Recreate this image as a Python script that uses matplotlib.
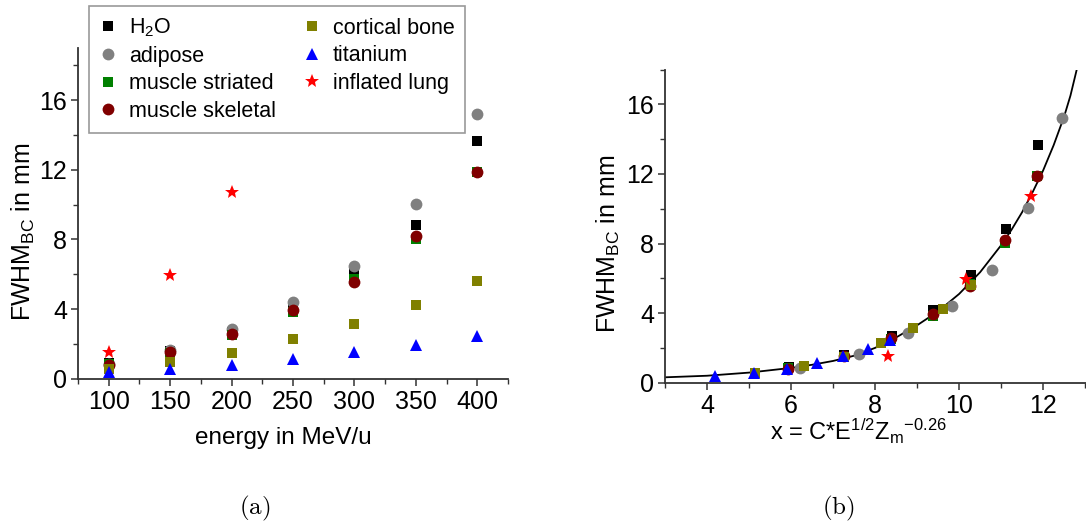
import numpy as np
import matplotlib
matplotlib.use('Agg')
import matplotlib.pyplot as plt
from matplotlib.ticker import MultipleLocator

plt.rcParams['font.family'] = ['Liberation Sans', 'DejaVu Sans']
plt.rcParams['mathtext.fontset'] = 'custom'
plt.rcParams['mathtext.rm'] = 'Liberation Sans'
plt.rcParams['mathtext.it'] = 'Liberation Sans:italic'
plt.rcParams['mathtext.bf'] = 'Liberation Sans:bold'

# beam energies (MeV/u)
energy = [100, 150, 200, 250, 300, 350, 400]
energy_lung = [100, 150, 200]

# FWHM_BC in mm per material
fwhm_h2o = [0.9, 1.6, 2.7, 4.2, 6.2, 8.85, 13.65]
fwhm_adipose = [0.85, 1.67, 2.86, 4.43, 6.5, 10.02, 15.23]
fwhm_striated = [0.85, 1.5, 2.5, 3.85, 5.7, 8.05, 11.9]
fwhm_skeletal = [0.77, 1.54, 2.56, 3.94, 5.58, 8.19, 11.9]
fwhm_bone = [0.55, 0.96, 1.48, 2.28, 3.16, 4.22, 5.63]
fwhm_titanium = [0.37, 0.54, 0.79, 1.13, 1.52, 1.96, 2.48]
fwhm_lung = [1.54, 5.95, 10.75]

# scaled variable x = C*E^1/2*Zm^-0.26
x_h2o = [5.94, 7.27, 8.40, 9.39, 10.29, 11.11, 11.88]
x_adipose = [6.22, 7.62, 8.79, 9.84, 10.78, 11.63, 12.44]
x_striated = [5.92, 7.26, 8.38, 9.37, 10.26, 11.09, 11.85]
x_skeletal = [5.93, 7.26, 8.38, 9.37, 10.26, 11.10, 11.85]
x_bone = [5.14, 6.30, 7.27, 8.13, 8.90, 9.62, 10.29]
x_titanium = [4.18, 5.12, 5.91, 6.61, 7.24, 7.82, 8.36]
x_lung = [8.30, 10.16, 11.72]

# fit curve
fit_x = [3.0, 4.0, 5.0, 6.0, 6.5, 7.0, 7.5, 8.0, 8.5, 9.0, 9.5, 10.0, 10.5,
         11.0, 11.25, 11.5, 11.75, 12.0, 12.25, 12.5, 12.65, 12.8]
fit_y = [0.31, 0.40, 0.58, 0.85, 1.03, 1.25, 1.55, 2.0, 2.6, 3.3, 4.1, 5.1,
         6.35, 7.9, 8.8, 9.8, 10.95, 12.2, 13.65, 15.3, 16.5, 18.0]

series = [
    ('H$_2$O', energy, x_h2o, fwhm_h2o, 's', 'black', 7.5),
    ('adipose', energy, x_adipose, fwhm_adipose, 'o', '#808080', 8.5),
    ('muscle striated', energy, x_striated, fwhm_striated, 's', '#008000', 7.5),
    ('muscle skeletal', energy, x_skeletal, fwhm_skeletal, 'o', '#800000', 8.5),
    ('cortical bone', energy, x_bone, fwhm_bone, 's', '#808000', 7.5),
    ('titanium', energy, x_titanium, fwhm_titanium, '^', '#0000ff', 8.5),
    ('inflated lung', energy_lung, x_lung, fwhm_lung, '*', '#ff0000', 10.0),
]

W, H = 1086, 524
fig = plt.figure(figsize=(W / 100, H / 100), dpi=100)
ax1 = fig.add_axes([78 / W, 1 - 378.7 / H, 430 / W, 330.7 / H])
ax2 = fig.add_axes([665 / W, 1 - 382.7 / H, 421 / W, 313.2 / H])

handles = []
for name, en, xs, ys, mk, col, ms in series:
    h, = ax1.plot(en, ys, linestyle='none', marker=mk, color=col, markersize=ms,
                  markeredgewidth=0, label=name)
    ax2.plot(xs, ys, linestyle='none', marker=mk, color=col, markersize=ms,
             markeredgewidth=0)
    handles.append(h)

ax2.plot(fit_x, fit_y, color='black', linewidth=1.3, zorder=1)

for ax in (ax1, ax2):
    for s in ('top', 'right'):
        ax.spines[s].set_visible(False)
    for s in ('left', 'bottom'):
        ax.spines[s].set_linewidth(1.3)
        ax.spines[s].set_color('#333333')
    ax.tick_params(which='major', direction='out', length=5, width=1.1,
                   labelsize=18, color='#333333', pad=3)
    ax.tick_params(which='minor', direction='out', length=3.5, width=1.0,
                   color='#333333')
    ax.yaxis.set_major_locator(MultipleLocator(4))
    ax.yaxis.set_minor_locator(MultipleLocator(2))
    ax.set_ylabel(r'FWHM$_{\mathrm{BC}}$ in mm', fontsize=18)

ax1.set_xlim(75, 425)
ax1.set_ylim(0, 19)
ax1.set_xticks([100, 150, 200, 250, 300, 350, 400])
ax1.xaxis.set_minor_locator(MultipleLocator(50, offset=25))
ax1.set_xlabel('energy in MeV/u', fontsize=17.5)
ax1.xaxis.set_label_coords(0.477, -0.146)
ax1.yaxis.set_label_coords(-0.095, 0.444)

ax2.set_xlim(3, 13.02)
ax2.set_ylim(0, 18)
ax2.xaxis.set_major_locator(MultipleLocator(2))
ax2.xaxis.set_minor_locator(MultipleLocator(1))
ax2.set_xlabel(r'x = C*E$^{1/2}$Z$_{\mathrm{m}}$$^{-0.26}$', fontsize=17)
ax2.xaxis.set_label_coords(0.46, -0.11)
ax2.yaxis.set_label_coords(-0.102, 0.443)

leg = ax1.legend(handles=handles, ncol=2, loc='upper left',
                 bbox_to_anchor=(89 / W, 1 - 6 / H), bbox_transform=fig.transFigure,
                 fontsize=15.5, frameon=True, fancybox=False, edgecolor='#808080',
                 handlelength=0.8, handletextpad=0.55, columnspacing=1.3,
                 labelspacing=0.3, borderpad=0.5, borderaxespad=0)
leg.get_frame().set_linewidth(1.2)

fig.text(255 / W, 1 - 508 / H, r'$\mathrm{(a)}$', ha='center', va='center',
         fontsize=18, math_fontfamily='cm')
fig.text(838 / W, 1 - 508 / H, r'$\mathrm{(b)}$', ha='center', va='center',
         fontsize=18, math_fontfamily='cm')

fig.savefig('out.png', dpi=100)
